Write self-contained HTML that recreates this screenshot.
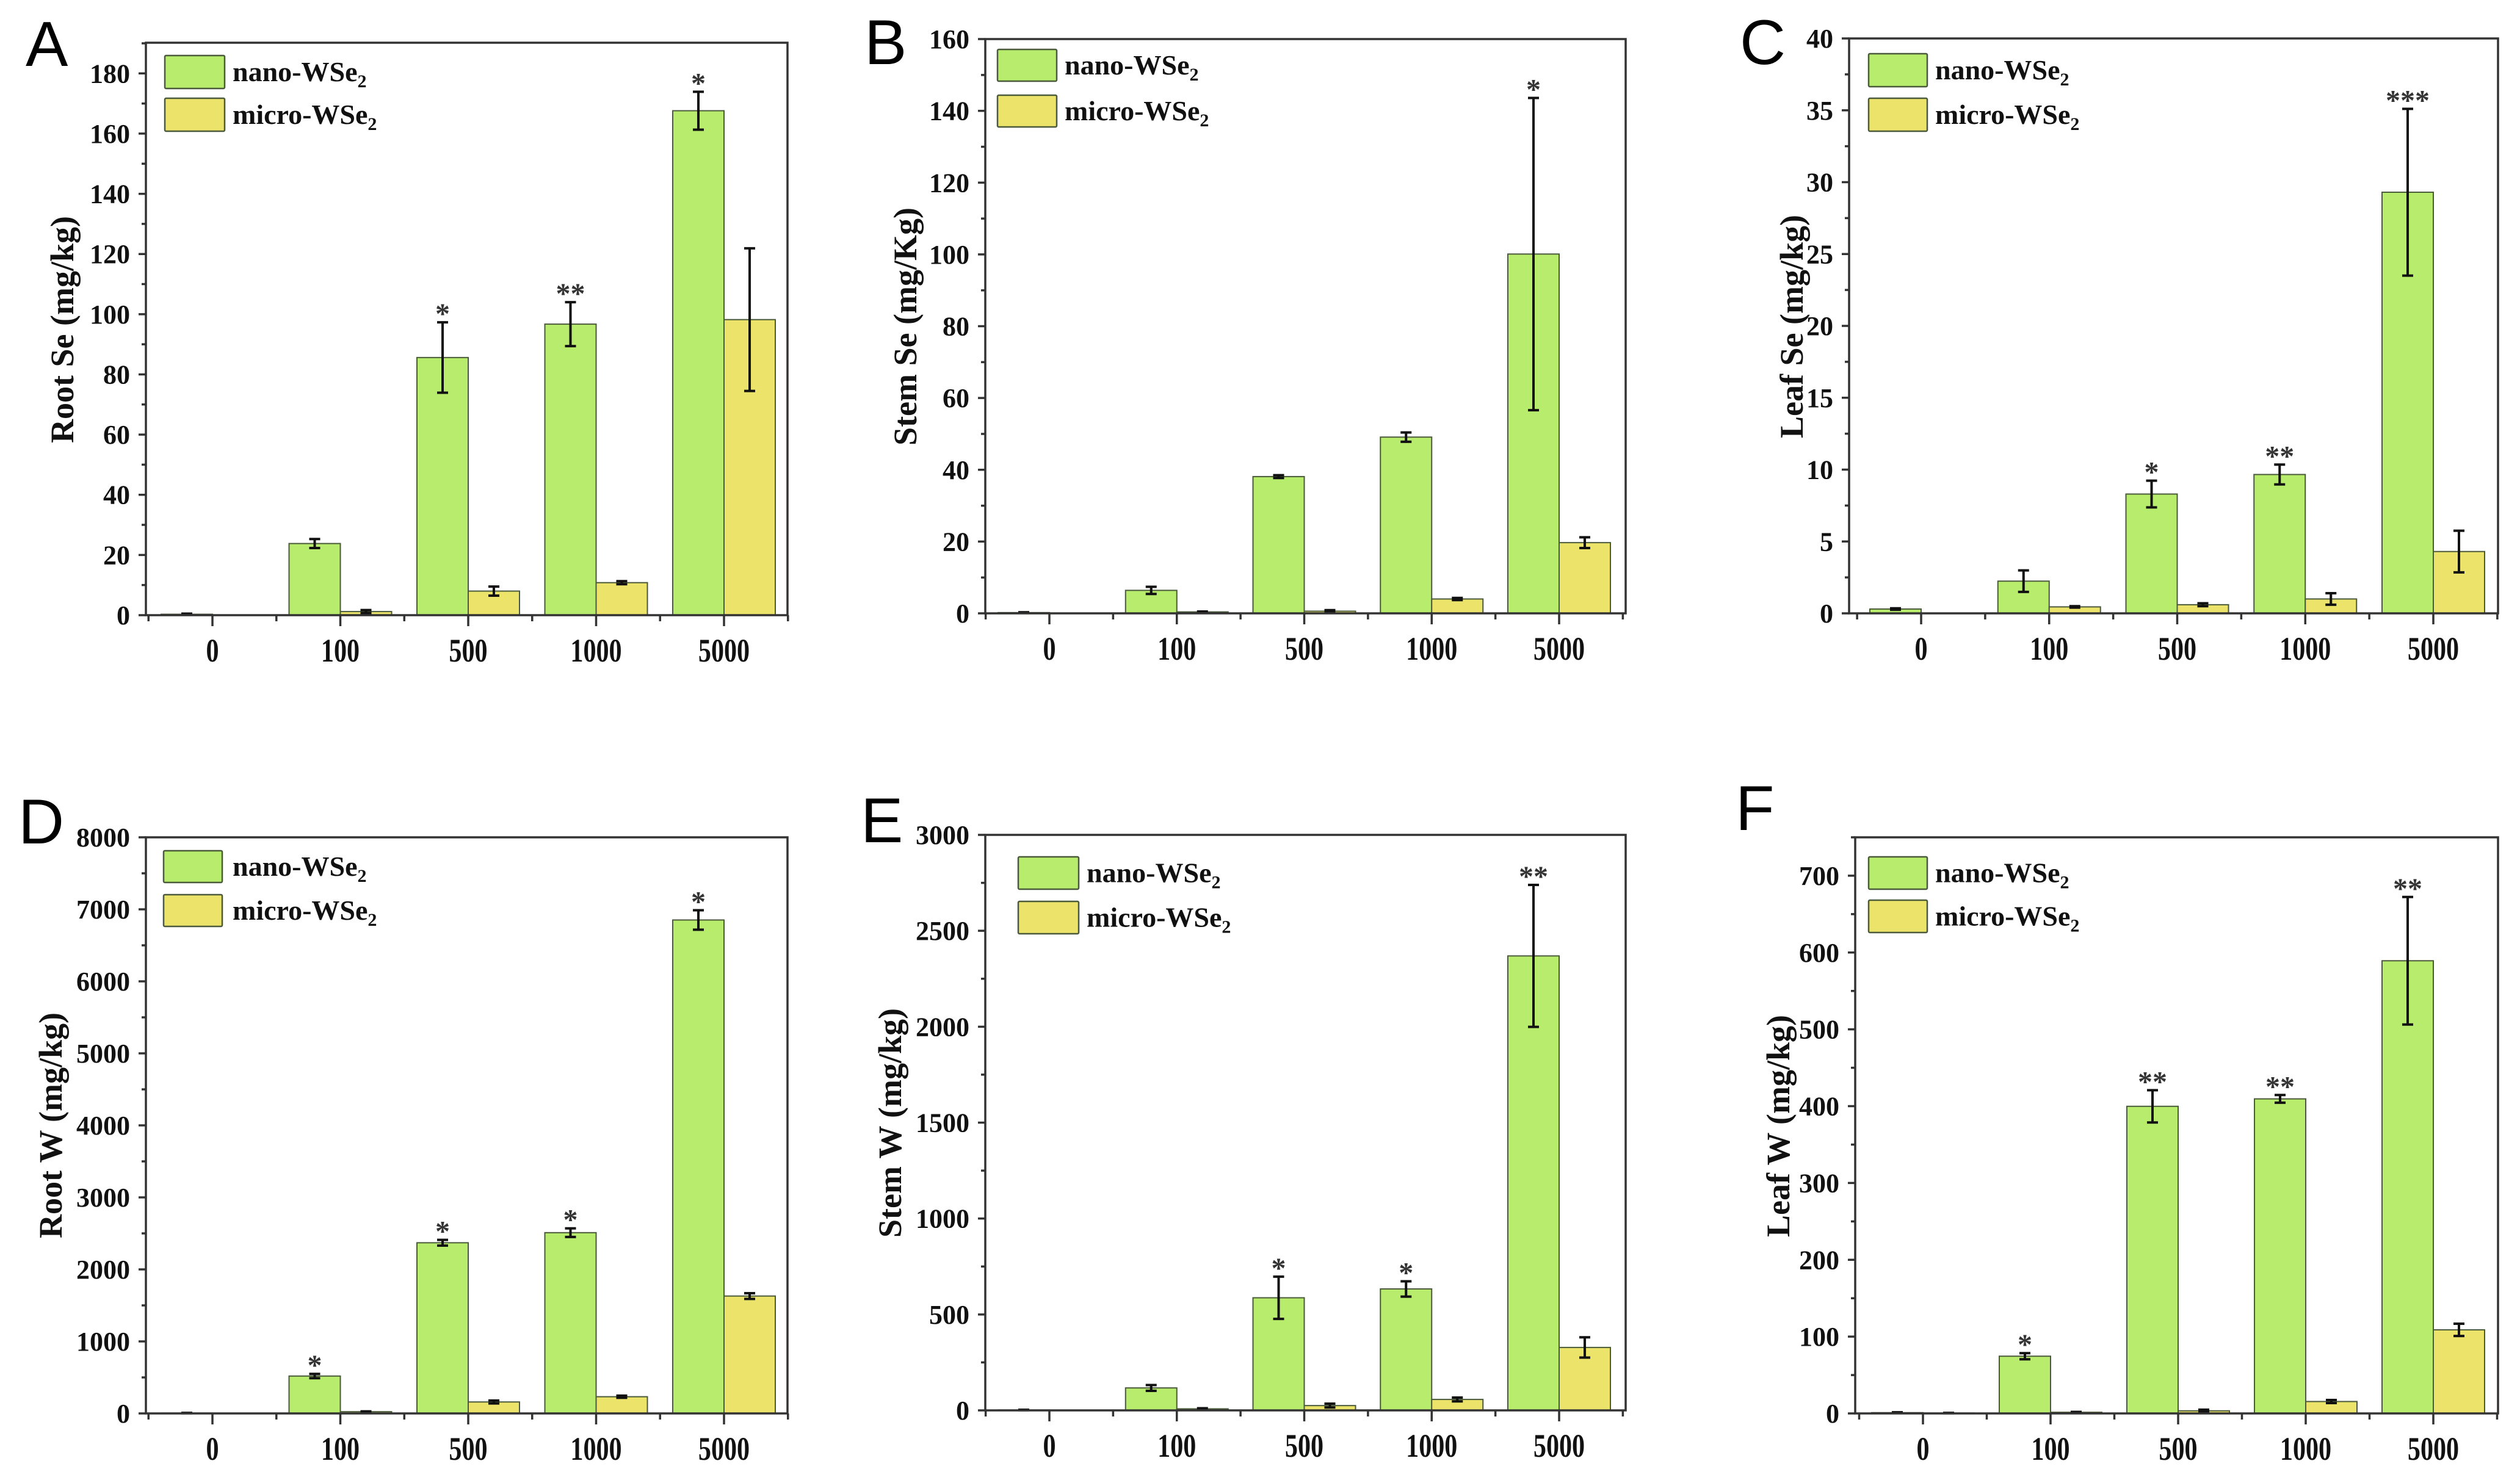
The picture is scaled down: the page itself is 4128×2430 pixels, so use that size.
<!DOCTYPE html>
<html><head><meta charset="utf-8">
<style>
html,body{margin:0;padding:0;background:#fff;}
svg{display:block;}
</style></head>
<body>
<svg id="fig" width="4128" height="2430" viewBox="0 0 4128 2430" xmlns="http://www.w3.org/2000/svg"></svg>
<script>
const categories = ["0","100","500","1000","5000"];
const seriesNames = ["nano-WSe", "micro-WSe"];

const rootSeNano = [0.3, 23.8, 85.6, 96.7, 167.6];
const rootSeNanoErr = [0.2, 1.5, 11.7, 7.3, 6.3];
const rootSeMicro = [0, 1.2, 8, 10.8, 98.2];
const rootSeMicroErr = [0, 0.5, 1.5, 0.5, 23.7];
const rootSeStars = ["", "", "*", "**", "*"];

const stemSeNano = [0.2, 6.4, 38.1, 49.1, 100.1];
const stemSeNanoErr = [0.1, 1.0, 0.4, 1.3, 43.5];
const stemSeMicro = [0, 0.4, 0.6, 4.0, 19.7];
const stemSeMicroErr = [0, 0.1, 0.3, 0.3, 1.5];
const stemSeStars = ["", "", "", "", "*"];

const leafSeNano = [0.3, 2.24, 8.3, 9.66, 29.3];
const leafSeNanoErr = [0.05, 0.75, 0.93, 0.69, 5.8];
const leafSeMicro = [0, 0.45, 0.6, 1.0, 4.3];
const leafSeMicroErr = [0, 0.05, 0.1, 0.4, 1.45];
const leafSeStars = ["", "", "*", "**", "***"];

const rootWNano = [5, 519, 2370, 2510, 6852];
const rootWNanoErr = [2, 30, 40, 60, 135];
const rootWMicro = [0, 24, 159, 232, 1630];
const rootWMicroErr = [0, 5, 20, 15, 40];
const rootWStars = ["", "*", "*", "*", "*"];

const stemWNano = [2, 117, 587, 633, 2369];
const stemWNanoErr = [1, 15, 110, 40, 370];
const stemWMicro = [0, 8, 25, 57, 328];
const stemWMicroErr = [0, 3, 10, 10, 53];
const stemWStars = ["", "", "*", "*", "**"];

const leafWNano = [1, 74.5, 399.8, 409.5, 589.3];
const leafWNanoErr = [0.5, 4, 21, 5, 83];
const leafWMicro = [0.5, 1.5, 3.4, 15.5, 108.8];
const leafWMicroErr = [0.2, 0.5, 1.5, 2, 8];
const leafWStars = ["", "*", "**", "**", "**"];

const yTicksA = [0,20,40,60,80,100,120,140,160,180];
const yTicksB = [0,20,40,60,80,100,120,140,160];
const yTicksC = [0,5,10,15,20,25,30,35,40];
const yTicksD = [0,1000,2000,3000,4000,5000,6000,7000,8000];
const yTicksE = [0,500,1000,1500,2000,2500,3000];
const yTicksF = [0,100,200,300,400,500,600,700];

const panels = [
 {id:"a",letter:"A",lx:42,ly:108,l:239,t:70,r:1290,b:1008,ymax:190.2,ticks:yTicksA,minor:10,c0:348,sp:209.5,
  gx:270,gy1:91,gy2:161,gw:98,gh:54,tx:381,title:"Root Se (mg/kg)",tcx:102,tcy:540,
  nano:rootSeNano,nanoErr:rootSeNanoErr,micro:rootSeMicro,microErr:rootSeMicroErr,stars:rootSeStars},
 {id:"b",letter:"B",lx:1416,ly:105,l:1614,t:64,r:2663,b:1005,ymax:160,ticks:yTicksB,minor:10,c0:1719,sp:208.75,
  gx:1634,gy1:81,gy2:156,gw:97,gh:52,tx:1744,title:"Stem Se (mg/Kg)",tcx:1483,tcy:535,
  nano:stemSeNano,nanoErr:stemSeNanoErr,micro:stemSeMicro,microErr:stemSeMicroErr,stars:stemSeStars},
 {id:"c",letter:"C",lx:2850,ly:105,l:3029,t:63,r:4092,b:1005,ymax:40,ticks:yTicksC,minor:2.5,c0:3147,sp:209.75,
  gx:3061,gy1:88,gy2:161,gw:96,gh:54,tx:3170,title:"Leaf Se (mg/kg)",tcx:2935,tcy:535,
  nano:leafSeNano,nanoErr:leafSeNanoErr,micro:leafSeMicro,microErr:leafSeMicroErr,stars:leafSeStars},
 {id:"d",letter:"D",lx:30,ly:1382,l:239,t:1372,r:1290,b:2316,ymax:8000,ticks:yTicksD,minor:500,c0:348,sp:209.5,
  gx:268,gy1:1394,gy2:1466,gw:96,gh:52,tx:381,title:"Root W (mg/kg)",tcx:83,tcy:1844,
  nano:rootWNano,nanoErr:rootWNanoErr,micro:rootWMicro,microErr:rootWMicroErr,stars:rootWStars},
 {id:"e",letter:"E",lx:1410,ly:1380,l:1614,t:1368,r:2663,b:2311,ymax:3000,ticks:yTicksE,minor:250,c0:1719,sp:208.75,
  gx:1668,gy1:1404,gy2:1477,gw:99,gh:53,tx:1780,title:"Stem W (mg/kg)",tcx:1458,tcy:1840,
  nano:stemWNano,nanoErr:stemWNanoErr,micro:stemWMicro,microErr:stemWMicroErr,stars:stemWStars},
 {id:"f",letter:"F",lx:2843,ly:1360,l:3039,t:1372,r:4092,b:2316,ymax:750,ticks:yTicksF,minor:50,c0:3150,sp:209,
  gx:3061,gy1:1404,gy2:1475,gw:96,gh:53,tx:3170,title:"Leaf W (mg/kg)",tcx:2913,tcy:1845,
  nano:leafWNano,nanoErr:leafWNanoErr,micro:leafWMicro,microErr:leafWMicroErr,stars:leafWStars}
];

const NS = "http://www.w3.org/2000/svg";
const svg = document.getElementById("fig");
function mk(tag, attrs, parent){
  const e = document.createElementNS(NS, tag);
  for (const k in attrs) e.setAttribute(k, attrs[k]);
  (parent||svg).appendChild(e);
  return e;
}
const SERIF = "'Liberation Serif', serif";
const SANS = "'Liberation Sans', sans-serif";
const NANO = "#b8ec6c", MICRO = "#ece46a", EDGE = "#4a5a3a";
const BW = 84;

panels.forEach(p => {
  const g = mk("g", {});
  
  
  const y = v => p.b - v / p.ymax * (p.b - p.t);
  const x = i => p.c0 + i * p.sp;

  const lt = mk("text", {x:p.lx, y:p.ly, "font-family":SANS, "font-size":104, fill:"#000"}, g);
  lt.textContent = p.letter;
  
  

  for (let i = 0; i < categories.length; i++) {
    [[p.nano, p.nanoErr, NANO, -BW, "nano"], [p.micro, p.microErr, MICRO, 0, "micro"]].forEach(s => {
      const v = s[0][i], e = s[1][i];
      if (v > 0) {
        const yy = y(v);
        const r = mk("rect", {x:x(i)+s[3], y:yy, width:BW, height:Math.max(p.b-yy,1), fill:s[2], stroke:EDGE, "stroke-width":2}, g);
        
        
      }
      if (v > 0) {
        const cx = x(i) + s[3] + BW/2;
        const y1 = y(v + e), y2 = y(Math.max(v - e, 0));
        const eb = mk("path", {d:`M${cx},${y1}V${y2}M${cx-9},${y1}H${cx+9}M${cx-9},${y2}H${cx+9}`, stroke:"#111", "stroke-width":4, fill:"none"}, g);
        
        
      }
    });
    if (p.stars[i]) {
      const st = mk("text", {x:x(i)-BW/2, y:y(p.nano[i]+p.nanoErr[i])+2, "text-anchor":"middle", "font-family":SERIF, "font-weight":"bold", "font-size":48, fill:"#333"}, g);
      st.textContent = p.stars[i];
      
      
    }
  }

  const fr = mk("rect", {x:p.l, y:p.t, width:p.r-p.l, height:p.b-p.t, fill:"none", stroke:"#333", "stroke-width":3.5}, g);
  
  

  let d = "";
  for (let v = 0; v <= p.ymax + 1e-9; v += p.minor) {
    const isMajor = Math.abs(v / (p.ticks[1]-p.ticks[0]) - Math.round(v / (p.ticks[1]-p.ticks[0]))) < 1e-6;
    d += `M${p.l},${y(v)}H${p.l - (isMajor?12:7)}`;
  }
  for (let i = 0; i < categories.length; i++) {
    d += `M${x(i)},${p.b}V${p.b+18}`;
    if (i < categories.length - 1) d += `M${x(i)+p.sp/2},${p.b}V${p.b+10}`;
  }
  d += `M${x(0)-p.sp/2},${p.b}V${p.b+10}M${x(4)+p.sp/2},${p.b}V${p.b+10}`;
  mk("path", {d:d, stroke:"#333", "stroke-width":3.5, fill:"none"}, g);

  p.ticks.forEach(v => {
    const t = mk("text", {x:p.l-26, y:y(v)+15, "text-anchor":"end", "font-family":SERIF, "font-weight":"bold", "font-size":44, fill:"#111"}, g);
    t.textContent = v;
    
    
  });
  categories.forEach((c, i) => {
    const t = mk("text", {"text-anchor":"middle", "font-family":SERIF, "font-weight":"bold", "font-size":54, fill:"#111",
      transform:`translate(${x(i)},${p.b+76}) scale(0.78,1)`}, g);
    t.textContent = c;
    
    
  });

  const tt = mk("text", {"text-anchor":"middle", "font-family":SERIF, "font-weight":"bold", "font-size":54, fill:"#111",
    transform:`translate(${p.tcx+18},${p.tcy}) rotate(-90)`}, g);
  tt.textContent = p.title;
  
  

  [[p.gy1, NANO, seriesNames[0], "legend-nano"], [p.gy2, MICRO, seriesNames[1], "legend-micro"]].forEach(L => {
    const lg = mk("g", {}, g);
    
    
    mk("rect", {x:p.gx, y:L[0], width:p.gw, height:p.gh, fill:L[1], stroke:EDGE, "stroke-width":2.5, rx:2}, lg);
    const t = mk("text", {x:p.tx, y:L[0]+p.gh/2+15, "font-family":SERIF, "font-weight":"bold", "font-size":46, fill:"#111"}, lg);
    t.textContent = L[2];
    const sub = mk("tspan", {"font-size":30, dy:10}, t);
    sub.textContent = "2";
  });
});
</script>
</body></html>
